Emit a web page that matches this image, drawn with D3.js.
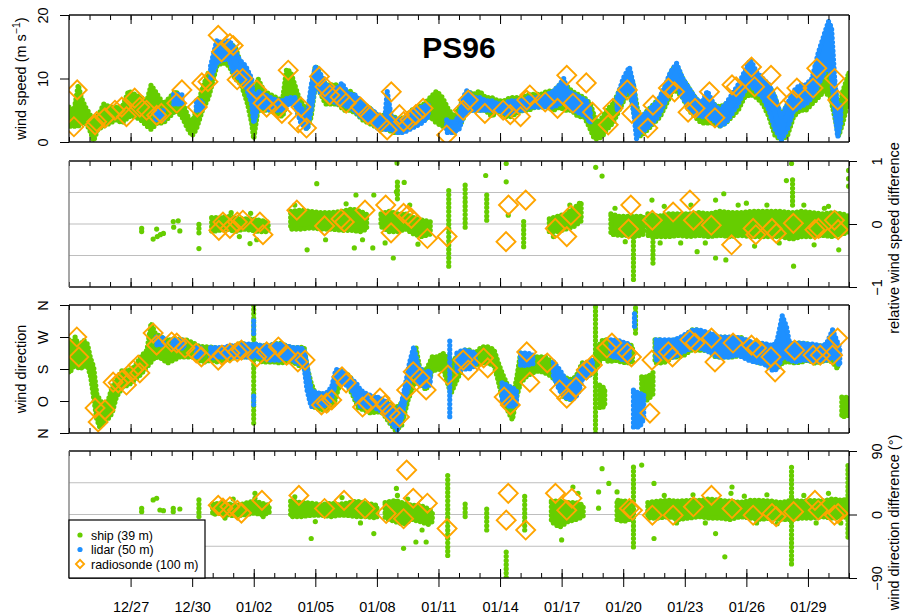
<!DOCTYPE html>
<html><head><meta charset="utf-8">
<script src="https://cdn.jsdelivr.net/npm/d3@7"></script>
<style>
body{margin:0;background:#fff}
svg{display:block}
text{font-family:"Liberation Sans",Arial,Helvetica,sans-serif}
</style>
</head><body>
<svg id="c" width="904" height="616"></svg>
<script>
// ---------------- DATA (t = days since 2015-12-24 00:00 UTC) ----------------
const startDate = "2015-12-24";
const endDate = "2016-01-31";
const majorTickDates = ["2015-12-27","2015-12-30","2016-01-02","2016-01-05","2016-01-08","2016-01-11","2016-01-14","2016-01-17","2016-01-20","2016-01-23","2016-01-26","2016-01-29"];
const speedTicks = [0,10,20];
const speedDiffTicks = [-1,0,1];
const speedDiffTickLabels = ["\u22121","0","1"];
const speedDiffGrid = [-0.5,0,0.5];
const dirTicks = [0,90,180,270,360];
const dirTickLabels = ["N","O","S","W","N"];
const dirDiffTicks = [-90,0,90];
const dirDiffTickLabels = ["\u221290","0","90"];
const dirDiffGrid = [-45,0,45];
const seriesNames = ["ship (39 m)","lidar (50 m)","radiosonde (100 m)"];
const title = "PS96";

// panel 1: wind speed bands [t, low, high]
const shipSpeed = [[
[0,2.5,5.5],[0.25,2.5,5],[0.45,2.5,9],[0.6,3,7],[0.8,3,5.5],[1.0,2,4.5],[1.2,0.2,3],[1.4,2,4],[1.7,2.5,6],[2.0,3,5.5],[2.3,3.5,5.5],[2.6,3,5.5],[2.9,4,8],[3.2,4,7.5],[3.5,3.5,7],[3.8,2.5,6.5],[4.0,2,9],[4.3,3,7.5],[4.6,3,6],[4.9,4,7],[5.2,5,8],[5.5,4,6.5],[5.8,2,4],[6.0,1,3],[6.2,2,5],[6.5,5,8.5],[6.8,7,11],[7.0,9.5,11],[7.2,12,14.5],[7.5,12.5,15.5],[7.8,12,15.5],[8.1,10,15],[8.4,9,12],[8.7,6,10],[8.9,3,9],[9.0,0.5,6],[9.2,5,10],[9.5,5,8],[9.8,5,7.5],[10.1,4.5,7],[10.4,4,6.5],[10.6,6,11.5],[10.8,8,11],[11.0,6,9],[11.2,4,7],[11.4,3,6],[11.6,2,4],[11.8,4,8],[12.0,9,12],[12.2,8,11],[12.5,6,9],[12.8,6,9],[13.1,6,9],[13.4,5,8],[13.7,5,8],[14.0,4.5,7],[14.3,3.5,6],[14.6,3,5.5],[14.9,2.5,4.5],[15.2,2,4],[15.5,2,4.5],[15.8,1.5,4],[16.1,1.5,3.5],[16.4,2,4],[16.7,2.5,5],[17.0,3,5.5],[17.3,3.5,6],[17.6,4,7],[17.9,3,8],[18.2,2.5,7],[18.5,2,5],[18.8,1.5,4],[19.1,3,6],[19.4,5,8],[19.7,5,7.5],[20.0,5,8],[20.3,5,7],[20.6,4,7],[20.9,5,6.5],[21.2,4,6.5],[21.5,4,7],[21.8,4.5,7],[22.1,5,7],[22.4,5,7.5],[22.7,5.5,7.5],[23.0,5.5,7.5],[23.3,5.5,8],[23.6,5,8],[23.9,5.5,9],[24.2,5,9],[24.5,5,8],[24.8,4,7.5],[25.1,4,7],[25.4,2,6],[25.6,0.5,4],[25.8,0.5,3],[26.0,1,4],[26.2,2,5],[26.5,3,6],[26.8,5,8],[27.1,7,10],[27.3,8,11],[27.5,5,9],[27.7,1,5],[27.9,1,4],[28.2,2,5],[28.5,3,6],[28.8,4,7],[29.1,6,9],[29.4,8,11.5],[29.6,8,12],[29.9,7,10],[30.2,5,8.5],[30.5,4,7],[30.8,3,6],[31.1,3,6.5],[31.4,3,6],[31.7,2.5,5.5],[32.0,3,6],[32.3,4,7],[32.6,5,8],[32.9,7,10],[33.2,7.5,11],[33.5,7,10],[33.8,6,9.5],[34.1,4,9],[34.4,1,7],[34.7,0.3,4],[35.0,1,6],[35.3,4,7],[35.6,5,8],[35.9,5,8.5],[36.2,6,9.5],[36.5,7,11],[36.8,8,12],[37.1,7,11],[37.3,4,9],[37.5,1,5],[37.7,3,8],[38.0,7,11]
]];
const lidarSpeed = [
[[4.2,3.5,5],[4.6,3.5,5]],
[[5.1,6,7.5],[5.5,6,7.5]],
[[6.2,5,6.5],[6.5,5,6.5]],
[[6.9,10,12],[7.2,12.5,16],[7.5,13,15.5],[7.8,13,16],[8.0,11,15],[8.3,10,13],[8.6,9,12],[8.9,6,10],[9.0,3,6],[9.2,5.5,8],[9.5,5.5,7.5],[9.8,5,7],[10.1,5,6.6],[10.4,5,6.5],[10.7,6,7],[11.0,6,7],[11.3,3,5.5],[11.6,2,4],[11.8,5,9],[12.0,9,11.8],[12.2,8,11],[12.5,7,9],[12.8,6.5,8.5],[13.1,6,8.5],[13.3,6,9.3],[13.6,5.5,7.5],[13.9,5,7.5],[14.2,4,6.5],[14.5,3.5,5.5],[14.8,3,5],[15.1,2,4],[15.4,2,4],[15.5,2,8],[15.7,2,4],[16.0,1.5,3.5],[16.3,1.5,3.5],[16.6,2,4.5],[16.9,2.5,5],[17.2,3,5.5],[17.5,4,6]],
[[18.4,1.5,3.5],[18.7,1.5,3],[19.0,2,4],[19.2,4,7],[19.4,5,8.2],[19.7,5,7],[20.0,5,7],[20.3,5,6.5],[20.6,5,6.5],[20.9,5,6],[21.2,4.5,6],[21.5,4.5,6.5],[21.8,5,6.5],[22.1,5,6.5],[22.4,5.5,7],[22.7,5.5,7],[23.0,5.5,7],[23.3,5.5,7.5],[23.6,5.5,8],[23.9,6,9],[24.1,7,10],[24.3,5.5,8],[24.6,5,7.5],[24.9,4.5,7],[25.2,4,6.5],[25.4,3,5]],
[[26.7,5,7],[27.0,7,10],[27.3,9,11.8],[27.5,5,9],[27.65,0.5,5],[27.8,1.5,4],[28.1,2,4.5],[28.4,3,5.5],[28.7,4,6.5],[29.0,6,8.5],[29.3,8,11],[29.6,9,12.4],[29.9,7,10],[30.2,5.5,8.5],[30.5,4.5,7],[30.8,4,6],[31.1,4,8],[31.4,3.5,6],[31.7,2.5,5],[32.0,3,6],[32.3,4.5,7.5],[32.6,6,9],[32.9,8,11],[33.2,9,13],[33.5,8,11],[33.8,7,10],[34.1,5,9],[34.4,2,7],[34.7,0.3,4],[35.0,2,6],[35.3,5,8],[35.6,5.5,9],[35.9,6,9],[36.2,7,10],[36.5,9,14],[36.8,11,17],[37.0,12,19],[37.15,10,18],[37.3,5,10],[37.45,0.8,5],[37.6,3,6]]
];
const sondeSpeed = [
[0.4,8.2],[0.24,2.4],[1.35,3.2],[1.27,2.7],[1.75,3.8],[2.24,5.0],[2.57,5.5],[2.8,4],[3.2,6.9],[3.45,5.5],[3.78,5],[4.27,4.2],[4.5,4.5],[5.25,6.1],[5.5,8.2],[6.25,5.5],[6.47,9.3],[6.77,9.5],[7.27,16.8],[7.43,14.2],[7.84,15.5],[8.0,15.2],[8.19,9.8],[8.46,10],[9.15,8.2],[9.45,6.1],[9.63,5.5],[10.2,5.3],[10.37,4.5],[10.68,11.3],[11.17,3],
[11.3,5.5],[11.57,2.2],[12.2,10.3],[12.47,8.7],[12.7,7.4],[13.2,7.1],[13.5,6.1],[14.2,5.5],[14.57,4.3],[15.15,3],[15.5,1.9],[15.7,7.9],[16.1,4.3],[16.3,3.2],[16.6,3.5],[16.9,4.3],[17.25,5.3],[18.4,1.1],[19.2,5],[19.45,6.6],[20.26,4.5],[21.15,5],[21.5,4.3],[22.0,4],[22.3,6.6],[22.45,7.4],[23.2,6.3],[23.8,5.3],[24.25,10.5],[24.55,6.1],[25.2,9.3],[25.5,4.7],
[26.27,2.7],[26.5,5.3],[27.2,8.2],[27.42,4.5],[28.2,2.2],[28.45,5.8],[29.2,8.5],[29.5,7.9],[30.16,4.7],[30.5,5.3],[31.2,7.9],[31.47,3.8],[32.3,9],[32.5,8.7],[33.25,11.8],[33.4,8.7],[34.2,10.5],[34.5,7.1],[35.27,6.6],[35.46,8.5],[36.25,8.5],[36.43,11.6],[37.3,10],[37.45,6.6]
];

// panel 2: relative wind speed difference
const speedDiffShip = [
[[6.95,-0.12,0.1],[7.3,-0.1,0.1],[7.7,-0.08,0.12],[8.1,-0.12,0.1],[8.5,-0.08,0.08],[8.9,-0.1,0.08],[9.3,-0.12,0.06],[9.7,-0.12,0.03]],
[[10.8,-0.08,0.2],[11.3,-0.08,0.22],[11.8,-0.06,0.2],[12.3,-0.08,0.18],[12.8,-0.08,0.18],[13.3,-0.1,0.2],[13.8,-0.1,0.24],[14.2,-0.12,0.2],[14.5,-0.08,0.15]],
[[15.2,-0.04,0.16],[15.6,-0.12,0.2],[16.0,-0.12,0.16],[16.4,-0.08,0.16],[16.8,-0.16,0.1],[17.2,-0.2,0.06],[17.6,-0.16,0.04]],
[[23.4,-0.12,0.08],[23.8,-0.12,0.12],[24.2,-0.08,0.16],[24.6,-0.04,0.25],[24.95,0.05,0.35]],
[[26.4,-0.16,0.16],[26.8,-0.18,0.12],[27.2,-0.18,0.12],[27.6,-0.2,0.12],[28.0,-0.16,0.12]],
[[28.2,-0.18,0.16],[28.7,-0.2,0.12],[29.2,-0.2,0.16],[29.7,-0.18,0.16],[30.2,-0.2,0.16],[30.7,-0.18,0.18],[31.2,-0.2,0.16],[31.7,-0.18,0.2],[32.2,-0.2,0.18],[32.7,-0.18,0.18],[33.2,-0.2,0.2],[33.7,-0.2,0.2],[34.2,-0.2,0.2],[34.7,-0.2,0.2],[35.2,-0.24,0.18],[35.7,-0.2,0.2],[36.2,-0.2,0.18],[36.7,-0.18,0.16],[37.2,-0.2,0.18],[37.7,-0.16,0.16],[38.0,-0.12,0.12]]
];
const speedDiffShipSpikes = [[18.5,-0.67,0.55],[19.3,-0.05,0.62],[20.35,0.06,0.5],[22.15,-0.36,0.06],[27.5,-0.88,-0.15],[28.45,-0.62,-0.2],[35.25,0.3,0.7],[6.33,-0.14,0.02],[16.0,0.4,0.7]];
const speedDiffShipPts = [
[3.54,-0.07],[3.54,-0.12],[4.27,-0.08],[4.1,-0.24],[4.3,-0.2],[4.45,-0.17],[4.6,-0.15],[5.08,0.04],[5.32,0.05],[5.1,-0.05],[5.4,-0.11],[6.33,-0.39],[8.85,0.17],[8.82,-0.31],[9.14,-0.25],[7.9,0.18],[8.3,-0.2],
[12.07,0.64],[15.98,0.97],[16.33,0.66],[15.95,0.51],[13.98,0.46],[14.85,0.46],[15.8,-0.54],[11.6,-0.41],[13.9,-0.38],[14.8,-0.38],[11.0,0.3],[12.5,-0.25],[13.5,0.32],[14.3,-0.25],[15.4,-0.3],[17.0,-0.32],[16.6,0.3],
[20.3,0.77],[21.3,0.96],[21.3,0.67],[21.4,0.14],[25.66,0.9],[25.97,0.76],[23.6,-0.2],[24.4,0.3],
[28.4,0.38],[31.5,0.38],[31.9,0.48],[35.2,0.96],[34.95,0.69],[37.98,0.85],[37.98,0.72],[37.98,0.6],[32.0,-0.57],[31.5,-0.54],[35.3,-0.67],[37.5,-0.41],[30.6,-0.44],[36.8,0.25],
[29.0,0.28],[29.8,-0.3],[30.3,0.3],[31.0,-0.3],[32.6,0.3],[33.4,-0.35],[34.0,0.3],[34.6,-0.3],[35.8,0.3],[36.3,-0.33],[37.0,0.28],[33.0,0.33],[28.8,-0.3],[26.6,0.25],[27.1,-0.28]
];
const speedDiffSonde = [
[7.3,-0.1],[7.5,0.03],[7.84,-0.07],[8.2,0.03],[8.47,0.06],[9.3,0.03],[9.45,-0.17],[11.1,0.22],
[12.45,-0.03],[13.25,0.08],[13.41,0.03],[14.42,0.22],[15.43,0.3],[15.69,-0.14],[16.3,0.17],[16.51,0.14],[16.68,0.09],[17.46,-0.23],[18.42,-0.2],[21.29,-0.28],[21.41,0.3],[22.25,0.38],[23.69,-0.07],[24.25,-0.2],[24.45,0.14],[27.37,0.3],[27.26,-0.08],[28.42,0.06],[29.43,0.19],[30.25,0.38],[30.42,0.06],[31.29,-0.02],[32.28,-0.33],[33.33,-0.07],[33.46,-0.17],[34.25,-0.07],[34.46,-0.15],[35.29,0.01],[36.34,-0.09],[36.51,-0.07],[37.29,0.06],[37.47,-0.09]
];

// panel 3: wind direction bands [t, low, high] (degrees)
const shipDir = [
[[0,169,262],[0.15,180,250],[0.3,195,270],[0.5,180,240],[0.7,186,262],[0.9,190,250],[1.05,160,210],[1.2,100,186],[1.35,40,110],[1.5,17,93],[1.7,30,80],[1.9,40,90],[2.1,56,129],[2.3,100,150],[2.6,129,177],[2.9,135,175],[3.2,149,186],[3.5,165,215],[3.8,186,233],[4.0,200,309],[4.2,214,280],[4.5,210,270],[4.8,197,260],[5.1,205,265],[5.4,214,262],[5.7,214,262],[6.0,214,255],[6.3,205,245],[6.6,200,242],[6.9,205,242],[7.2,200,240],[7.5,205,235],[7.8,205,235],[8.1,214,245],[8.4,214,253],[8.7,214,245],[9.1,214,250],[9.4,200,245],[9.7,200,245],[10.0,200,250],[10.3,197,253],[10.6,200,245],[10.9,200,240],[11.2,190,240],[11.45,186,242],[11.6,150,186],[11.8,93,140],[12.0,70,110],[12.3,65,110],[12.6,65,105],[12.9,80,120],[13.2,140,169],[13.5,140,169],[13.8,110,150],[14.1,70,121],[14.4,65,101],[14.7,56,101],[15.0,60,100],[15.3,56,90],[15.6,30,84],[15.9,8,70],[16.2,20,84],[16.5,90,140],[16.7,121,200],[16.9,150,242],[17.1,140,177],[17.4,121,177],[17.7,177,214],[18.0,177,214],[18.2,186,225],[18.4,150,214],[18.6,110,200],[18.9,150,214],[19.2,186,233],[19.5,186,233],[19.8,190,225],[20.1,197,242],[20.4,197,242],[20.7,190,235],[20.9,150,200],[21.1,100,169],[21.4,60,130],[21.6,37,100],[21.8,100,150],[22.0,141,225],[22.3,160,220],[22.6,170,214],[22.9,175,214],[23.2,169,214],[23.5,160,200],[23.8,140,180],[24.1,100,158],[24.4,93,150],[24.7,110,158],[25.0,158,197],[25.3,160,197],[25.55,170,200]],
[[25.75,190,240],[26.0,214,262],[26.3,200,262],[26.6,205,255],[26.9,200,255],[27.2,197,250],[27.45,200,245]],
[[25.85,70,135],[26.1,75,125]],
[[27.9,93,158],[28.2,93,158],[28.45,110,170]],
[[28.55,197,262],[28.8,197,262],[29.1,200,255],[29.4,214,262],[29.7,214,262],[30.0,220,265],[30.3,233,290],[30.6,233,290],[30.9,233,280],[31.2,230,280],[31.5,214,270],[31.8,214,270],[32.1,214,270],[32.4,214,265],[32.7,220,270],[33.0,214,260],[33.3,205,253],[33.6,197,253],[33.9,197,250],[34.2,190,245],[34.5,180,240],[34.8,200,250],[35.1,200,250],[35.4,197,253],[35.7,200,253],[36.0,205,250],[36.3,197,245],[36.6,200,245],[36.9,205,245],[37.2,200,240],[37.45,180,230]],
[[37.65,45,101],[38.0,50,100]]
];
const shipDirSpikes = [[9.0,28,360],[25.65,0,360],[27.6,281,360]];
const lidarDir = [
[[4.25,248,270],[4.6,248,270]],
[[5.05,239,262],[5.6,239,262]],
[[6.2,214,239],[6.5,214,239]],
[[6.9,210,240],[7.2,214,240],[7.5,214,240],[7.8,214,245],[8.1,214,245],[8.4,214,250],[8.7,214,250],[8.95,214,250]],
[[9.1,214,250],[9.4,214,245],[9.7,205,245],[10.0,205,250],[10.3,205,250],[10.6,210,245],[10.9,205,240],[11.2,195,240],[11.45,187,235],[11.6,120,187],[11.8,74,121],[12.0,80,115],[12.3,75,110],[12.6,80,115],[12.8,100,130],[13.0,140,178],[13.2,145,178],[13.5,135,165],[13.8,120,150],[14.0,93,140],[14.2,74,121],[14.5,74,110],[14.8,74,103],[15.1,65,100],[15.4,56,90],[15.7,28,74],[16.0,10,60],[16.2,40,84],[16.4,100,140],[16.6,140,200],[16.8,180,243],[17.0,140,190],[17.3,130,170],[17.6,135,175]],
[[18.9,175,225],[19.2,180,234],[19.5,180,230],[19.8,190,225]],
[[21.1,90,141],[21.5,73,130],[21.8,80,120]],
[[22.0,190,225],[22.3,190,225],[22.6,195,220]],
[[23.6,160,200],[23.9,120,178],[24.2,100,150],[24.5,93,140],[24.8,110,160],[25.0,150,190],[25.3,160,200],[25.5,175,206]],
[[26.4,214,262],[26.7,214,262],[27.0,205,255],[27.3,205,250]],
[[27.5,17,121],[27.8,17,110],[28.0,40,110]],
[[28.6,205,262],[28.9,214,262],[29.2,214,262],[29.5,214,262],[29.8,225,270],[30.1,233,280],[30.4,240,290],[30.7,240,290],[31.0,233,285],[31.3,225,280],[31.6,214,270],[31.9,214,270],[32.2,214,270],[32.5,220,270],[32.8,214,265],[33.1,205,260],[33.4,200,250],[33.7,197,253],[34.0,190,250],[34.3,175,245],[34.5,180,260],[34.75,214,330],[34.95,214,300],[35.1,205,253],[35.4,200,253],[35.7,205,253],[36.0,205,250],[36.3,200,250],[36.6,205,245],[36.9,205,250],[37.2,214,290],[37.4,200,260],[37.55,190,240]]
];
const lidarDirSpikes = [[9.0,280,320],[9.0,80,110],[18.55,46,262],[27.55,300,340]];
const sondeDir = [
[0.38,270],[0.48,214],[1.27,70],[1.42,31],[1.75,65],[2.15,143],[2.4,141],[2.58,149],[2.8,135],[3.13,177],[3.37,191],[3.45,169],[4.1,281],[4.27,247],[5.0,256],[5.25,253],[5.65,239],[6.2,225],[6.45,214],[7.27,205],[7.45,219],[7.84,225],[8.2,228],[8.4,233],[9.15,214],[9.63,228],[10.2,242],[10.6,219],[11.15,200],
[11.5,205],[12.3,79],[12.55,84],[12.8,93],[13.3,158],[13.5,141],[14.3,73],[14.57,84],[15.15,98],[15.4,79],[15.65,56],[16.1,45],[16.45,121],[16.77,172],[17.1,155],[17.4,121],[18.46,163],[19.2,205],[19.45,177],[20.2,211],[20.4,183],[21.2,101],[21.5,79],[22.3,228],[22.45,143],[23.3,197],[23.9,121],[24.25,98],[24.7,129],[25.2,177],[25.5,191],
[26.2,239],[26.45,253],[27.2,225],[27.4,214],[28.3,56],[28.4,205],[29.2,228],[29.4,214],[30.25,262],[30.5,253],[31.3,267],[31.47,200],[32.35,253],[33.25,247],[33.5,239],[34.2,214],[34.4,172],[35.35,233],[36.25,219],[36.6,219],[37.2,219],[37.45,267]
];

// panel 4: wind direction difference (degrees)
const dirDiffShip = [
[[7.0,0,15],[7.4,2,16],[7.8,-1,15],[8.2,-2,13],[8.6,0,16],[9.0,2,19],[9.4,0,16],[9.75,2,13]],
[[10.8,-3,19],[11.3,-3,17],[11.8,-1,16],[12.3,-1,14],[12.8,-3,16],[13.1,-1,14],[13.5,-1,16],[14.0,-3,19],[14.5,-3,16],[15.0,-5,13]],
[[15.4,-5,17],[15.9,-10,20],[16.3,-14,16],[16.7,-7,13],[17.1,-10,13],[17.5,-14,8],[17.7,-10,4]],
[[23.5,-10,19],[23.9,-18,19],[24.3,-10,17],[24.7,-7,17],[25.05,-3,13]],
[[26.7,-7,17],[27.0,-10,20],[27.3,-7,17]],
[[28.2,-5,17],[28.7,-5,19],[29.2,-3,20],[29.7,-7,19],[30.2,-5,20],[30.7,-3,20],[31.2,-5,22],[31.7,-5,20],[32.2,-7,19],[32.7,-3,17],[33.2,-5,20],[33.7,-7,20],[34.2,-5,19],[34.7,-7,17],[35.2,-7,20],[35.7,-5,19],[36.2,-5,20],[36.7,-3,19],[37.2,-5,22],[37.7,-3,20],[38.0,-5,24]]
];
const dirDiffShipSpikes = [[6.33,-3,23],[18.45,-58,56],[19.3,-3,16],[20.35,-22,13],[21.3,-89,-48],[22.2,-22,30],[27.5,-46,72],[35.2,-70,72],[37.95,-32,72]];
const dirDiffShipPts = [
[3.54,8.8],[3.54,4],[4.1,20.6],[4.27,23],[4.43,6.4],[4.6,5.4],[5.08,8.8],[5.08,4],[5.4,7.8],[9.06,30],[9.06,23],[9.46,-3],[8.0,22],[7.6,-5],
[11.8,-34],[14.85,-27],[15.95,37],[16.0,27],[16.3,-48],[16.9,-39],[17.4,-39],[11.0,25],[12.0,-10],[13.3,24],[14.2,-12],[16.5,22],[17.2,-22],
[24.55,39],[24.8,30],[24.0,-36],[25.97,65],[26.3,44],[25.8,32],[25.8,9],[26.7,32],[26.75,20],[26.8,1],[27.9,70],[28.5,44],[28.5,-34],[32.3,39],[32.25,30],[31.5,-27],[31.95,-60],
[29.0,27],[29.6,-12],[30.4,28],[31.0,-12],[32.9,26],[33.5,-12],[34.0,28],[34.5,-13],[35.8,27],[36.4,-12],[37.0,30],[37.6,-12]
];
const dirDiffSonde = [
[7.27,13],[7.5,9],[7.84,11],[8.2,6],[8.4,2],[9.4,20],[11.2,27],
[12.45,8.5],[13.4,20],[14.42,8.5],[15.45,1.4],[16.3,-6],[16.45,63],[16.77,23],[17.46,16],[18.42,-20],[21.3,-8],[21.4,30],[22.25,-22],[23.7,30],[24.25,6],[24.5,23],[27.3,8.5],[27.45,6],[28.42,-1],[29.43,-1],[30.42,11],[31.3,27],[32.3,8.5],[33.33,-1],[34.25,1.4],[34.45,-3],[35.3,4],[36.34,20],[36.5,6],[37.29,-1],[37.47,1.4]
];

// ---------------- DRAWING ----------------
const GREEN = "#66CD00", BLUE = "#1E90FF", ORANGE = "#FFA500";
const DAY = 864e5;
const d0 = new Date(startDate + "T00:00:00Z"), d1 = new Date(endDate + "T00:00:00Z");
const L = 69, R = 849;
const x = d3.scaleUtc().domain([d0, d1]).range([L, R]);
const xt = t => x(new Date(d0.getTime() + t * DAY));
const svg = d3.select("#c");
const FS = 14.5;

const panelDefs = [
  {top: 15, bottom: 142, domain: [0, 20], axisSide: "left"},
  {top: 161, bottom: 287, domain: [-1, 1], axisSide: "right"},
  {top: 305, bottom: 433, domain: [0, 360], axisSide: "left"},
  {top: 451, bottom: 578, domain: [-90, 90], axisSide: "right"}
];
const panels = panelDefs.map((p, i) => {
  const y = d3.scaleLinear().domain(p.domain).range([p.bottom, p.top]);
  svg.append("clipPath").attr("id", "clip" + i).append("rect")
    .attr("x", L).attr("y", p.top).attr("width", R - L).attr("height", p.bottom - p.top);
  const g = svg.append("g").attr("clip-path", `url(#clip${i})`);
  return Object.assign({}, p, {y, g});
});

function grid(p, vals) {
  p.g.selectAll(null).data(vals).join("line")
    .attr("x1", L).attr("x2", R).attr("y1", d => p.y(d)).attr("y2", d => p.y(d))
    .attr("stroke", "#bebebe").attr("stroke-width", 1.2);
}
function bands(p, segs, color) {
  const area = d3.area().x(d => xt(d[0])).y0(d => p.y(d[1])).y1(d => p.y(d[2]));
  p.g.selectAll(null).data(segs).join("path").attr("d", area)
    .attr("fill", color).attr("stroke", color).attr("stroke-width", 2).attr("stroke-linejoin", "round");
  p.g.selectAll(null).data(segs).join("path").attr("d", area)
    .attr("fill", "none").attr("stroke", color).attr("stroke-width", 5.2)
    .attr("stroke-linecap", "round").attr("stroke-dasharray", "0 4.3");
}
function spikes(p, data, color) {
  p.g.selectAll(null).data(data).join("line")
    .attr("x1", d => xt(d[0])).attr("x2", d => xt(d[0]))
    .attr("y1", d => p.y(d[1])).attr("y2", d => p.y(d[2]))
    .attr("stroke", color).attr("stroke-width", 5.2).attr("stroke-linecap", "round")
    .attr("stroke-dasharray", "0 4.2");
}
function dots(p, data, color) {
  p.g.selectAll(null).data(data).join("circle")
    .attr("cx", d => xt(d[0])).attr("cy", d => p.y(d[1])).attr("r", 2.6).attr("fill", color);
}
const diamond = d3.symbol().type(d3.symbolSquare).size(180);
function diamonds(p, data) {
  p.g.selectAll(null).data(data).join("path").attr("d", diamond)
    .attr("transform", d => `translate(${xt(d[0])},${p.y(d[1])}) rotate(45)`)
    .attr("fill", "none").attr("stroke", ORANGE).attr("stroke-width", 1.9);
}

const [P1, P2, P3, P4] = panels;
bands(P1, shipSpeed, GREEN);
bands(P1, lidarSpeed, BLUE);
diamonds(P1, sondeSpeed);
grid(P2, speedDiffGrid);
bands(P2, speedDiffShip, GREEN);
spikes(P2, speedDiffShipSpikes, GREEN);
dots(P2, speedDiffShipPts, GREEN);
diamonds(P2, speedDiffSonde);
bands(P3, shipDir, GREEN);
spikes(P3, shipDirSpikes, GREEN);
bands(P3, lidarDir, BLUE);
spikes(P3, lidarDirSpikes, BLUE);
diamonds(P3, sondeDir);
grid(P4, dirDiffGrid);
bands(P4, dirDiffShip, GREEN);
spikes(P4, dirDiffShipSpikes, GREEN);
dots(P4, dirDiffShipPts, GREEN);
diamonds(P4, dirDiffSonde);

// axes / frames
const minorDays = d3.utcDay.range(d0, new Date(d1.getTime() + 1));
const majors = majorTickDates.map(s => new Date(s + "T00:00:00Z"));
const fmt = d3.utcFormat("%m/%d");
function styleAxis(sel) {
  sel.select(".domain").remove();
  sel.selectAll("line").attr("stroke", "#000").attr("stroke-width", 1);
  sel.selectAll("text").attr("fill", "#000").style("font-size", FS + "px").style("font-family", '"Liberation Sans",Arial,sans-serif');
}
panels.forEach((p, i) => {
  svg.append("g").attr("transform", `translate(0,${p.top})`)
    .call(d3.axisBottom(x).tickValues(minorDays).tickSize(5).tickFormat("")).call(styleAxis);
  svg.append("g").attr("transform", `translate(0,${p.top})`)
    .call(d3.axisBottom(x).tickValues(majors).tickSize(9).tickFormat("")).call(styleAxis);
  svg.append("g").attr("transform", `translate(0,${p.bottom})`)
    .call(d3.axisTop(x).tickValues(minorDays).tickSize(5).tickFormat("")).call(styleAxis);
  svg.append("g").attr("transform", `translate(0,${p.bottom})`)
    .call(d3.axisTop(x).tickValues(majors).tickSize(9).tickFormat("")).call(styleAxis);
  // frame: top, bottom and the axis side in black; the plain side in grey
  const fr = svg.append("g").attr("fill", "none");
  fr.append("line").attr("x1", L).attr("x2", R).attr("y1", p.top).attr("y2", p.top).attr("stroke", "#111").attr("stroke-width", 1.3);
  fr.append("line").attr("x1", L).attr("x2", R).attr("y1", p.bottom).attr("y2", p.bottom).attr("stroke", "#111").attr("stroke-width", 1.3);
  fr.append("line").attr("x1", L).attr("x2", L).attr("y1", p.top).attr("y2", p.bottom)
    .attr("stroke", p.axisSide === "left" ? "#111" : "#777").attr("stroke-width", 1.3);
  fr.append("line").attr("x1", R).attr("x2", R).attr("y1", p.top).attr("y2", p.bottom).attr("stroke", "#111").attr("stroke-width", 1.3);
});
const xa = svg.append("g").attr("transform", `translate(0,${P4.bottom})`)
  .call(d3.axisBottom(x).tickValues(majors).tickSize(9).tickFormat(fmt)).call(styleAxis);
xa.selectAll("text").attr("dy", null).attr("y", 33.5);

function leftAxis(p, vals, labels) {
  const a = svg.append("g").attr("transform", `translate(${L},0)`)
    .call(d3.axisLeft(p.y).tickValues(vals).tickSize(9).tickFormat((d, i) => labels ? labels[i] : d)).call(styleAxis);
  a.selectAll("text").attr("transform", "rotate(-90)").attr("x", 0).attr("y", -21).attr("dy", null).attr("text-anchor", "middle");
}
function rightAxis(p, vals, labels) {
  const a = svg.append("g").attr("transform", `translate(${R},0)`)
    .call(d3.axisRight(p.y).tickValues(vals).tickSize(8).tickFormat((d, i) => labels[i])).call(styleAxis);
  a.selectAll("text").attr("transform", "rotate(-90)").attr("x", 0).attr("y", 33).attr("dy", null).attr("text-anchor", "middle");
}
leftAxis(P1, speedTicks, null);
rightAxis(P2, speedDiffTicks, speedDiffTickLabels);
leftAxis(P3, dirTicks, dirTickLabels);
rightAxis(P4, dirDiffTicks, dirDiffTickLabels);

function vtitle(xpos, ycenter, build) {
  const t = svg.append("text").attr("transform", `translate(${xpos},${ycenter}) rotate(-90)`)
    .attr("text-anchor", "middle").style("font-size", FS + "px");
  build(t);
}
vtitle(26, (P1.top + P1.bottom) / 2, t => {
  t.append("tspan").text("wind speed (m s");
  t.append("tspan").attr("dy", -6).style("font-size", "10.5px").text("\u22121");
  t.append("tspan").attr("dy", 6).text(")");
});
vtitle(26, (P3.top + P3.bottom) / 2, t => t.text("wind direction"));
vtitle(899, (P2.top + P2.bottom) / 2 + 14, t => t.text("relative wind speed difference"));
vtitle(899, (P4.top + P4.bottom) / 2 + 8, t => t.text("wind direction difference (\u00b0)"));

svg.append("text").attr("x", 459).attr("y", 58).attr("text-anchor", "middle")
  .style("font-size", "30px").style("font-weight", "bold").text(title);

const lg = svg.append("g");
lg.append("rect").attr("x", L).attr("y", 520).attr("width", 136).attr("height", P4.bottom - 520)
  .attr("fill", "#fff").attr("stroke", "#000").attr("stroke-width", 1.2);
const legendY = [535, 549.5, 564];
const legendColors = [GREEN, BLUE, ORANGE];
seriesNames.forEach((name, i) => {
  if (i < 2) lg.append("circle").attr("cx", 80).attr("cy", legendY[i]).attr("r", 2.6).attr("fill", legendColors[i]);
  else lg.append("path").attr("d", d3.symbol().type(d3.symbolSquare).size(34)())
    .attr("transform", `translate(80,${legendY[i]}) rotate(45)`).attr("fill", "none").attr("stroke", ORANGE).attr("stroke-width", 1.8);
  lg.append("text").attr("x", 91).attr("y", legendY[i] + 4.5).style("font-size", "12.4px").text(name);
});
</script>
</body></html>
